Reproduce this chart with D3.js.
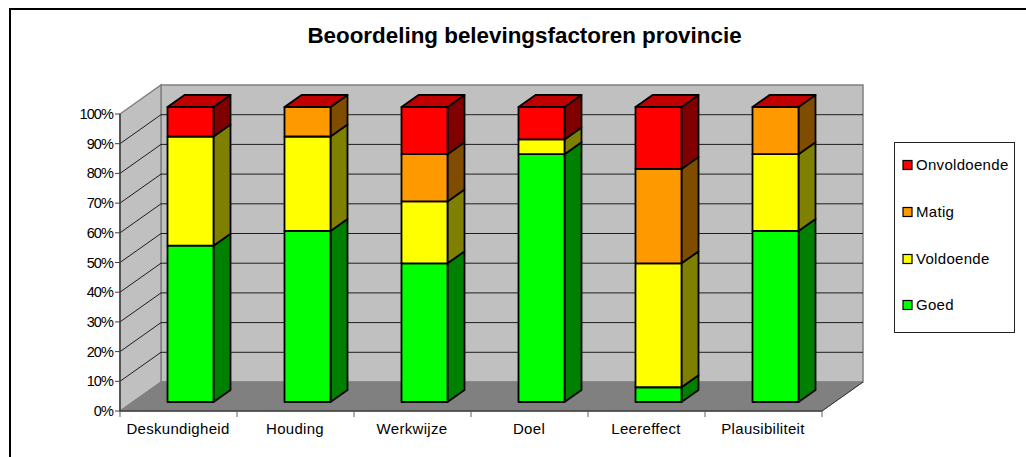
<!DOCTYPE html>
<html><head><meta charset="utf-8">
<script src="https://cdn.jsdelivr.net/npm/d3@7/dist/d3.min.js"></script>
<style>html,body{margin:0;padding:0;background:#fff}svg{display:block}text{font-family:"Liberation Sans",Arial,sans-serif;fill:#000}</style>
</head><body><script>
const categories=["Deskundigheid","Houding","Werkwijze","Doel","Leereffect","Plausibiliteit"];
const goed=[53,58,47,84,5,58];
const voldoende=[37,32,21,5,42,26];
const matig=[0,10,16,0,32,16];
const onvoldoende=[10,0,16,11,21,0];
const tickLabels=["0%","10%","20%","30%","40%","50%","60%","70%","80%","90%","100%"];
const seriesNames=["Goed","Voldoende","Matig","Onvoldoende"];
const seriesVals=[goed,voldoende,matig,onvoldoende];
const colors=["#00ff00","#ffff00","#ff9900","#ff0000"];
const sideColors=["#008000","#808000","#804d00","#800000"];

const W=1026,H=457;
const svg=d3.select("body").append("svg").attr("width",W).attr("height",H);
svg.append("path").attr("d","M10,"+H+"V9H"+W).attr("fill","none").attr("stroke","#000").attr("stroke-width",2);
svg.append("text").attr("x",524.5).attr("y",43).attr("text-anchor","middle").attr("font-size",22.4).attr("font-weight","bold").text("Beoordeling belevingsfactoren provincie");

const dx=41,dy=-29;
const x0=120,x1=822;
const y=d3.scaleLinear().domain([0,100]).range([411,114]);
const x=d3.scaleBand().domain(categories).range([x0,x1]);
const line=d3.line();
svg.append("path").attr("d",line([[x0+dx,y(100)+dy],[x1+dx,y(100)+dy],[x1+dx,y(0)+dy],[x0+dx,y(0)+dy]])+"Z").attr("fill","#c0c0c0").attr("stroke","#808080").attr("stroke-width",1.5);
svg.append("path").attr("d",line([[x0,y(100)],[x0+dx,y(100)+dy],[x0+dx,y(0)+dy],[x0,y(0)]])+"Z").attr("fill","#c0c0c0").attr("stroke","#808080").attr("stroke-width",1.5);
svg.append("path").attr("d",line([[x0,y(0)],[x0+dx,y(0)+dy],[x1+dx,y(0)+dy],[x1,y(0)]])+"Z").attr("fill","#808080").attr("stroke","#808080");
d3.range(10,100,10).forEach(v=>{
  svg.append("path").attr("d",line([[x0,y(v)],[x0+dx,y(v)+dy],[x1+dx,y(v)+dy]])).attr("fill","none").attr("stroke","#000").attr("stroke-width",1).attr("opacity",.85);
});
svg.append("path").attr("d",line([[x0,y(100)],[x0,y(0)],[x1,y(0)]])).attr("fill","none").attr("stroke","#404040").attr("stroke-width",1.5);
svg.append("path").attr("d",line([[x1,y(0)],[x1+dx,y(0)+dy]])).attr("stroke","#303030");
tickLabels.forEach((t,i)=>{
  const v=i*10;
  svg.append("line").attr("x1",x0-5).attr("x2",x0).attr("y1",y(v)).attr("y2",y(v)).attr("stroke","#404040");
  svg.append("text").attr("x",x0-7).attr("y",y(v)+5).attr("text-anchor","end").attr("font-size",14.5).attr("letter-spacing",-0.9).text(t);
});
categories.concat([null]).forEach((c,i)=>{
  const px=x0+x.step()*i;
  svg.append("line").attr("x1",px).attr("x2",px).attr("y1",y(0)).attr("y2",y(0)+6).attr("stroke","#606060");
  if(c) svg.append("text").attr("x",px+x.step()/2-0.5).attr("y",434).attr("text-anchor","middle").attr("font-size",15).attr("letter-spacing",0.3).text(c);
});
const bw=46,ox=17,oy=-12,by=d3.scaleLinear().domain([0,100]).range([402,107]);
categories.forEach((c,i)=>{
  const L=x(c)+47.5,R=L+bw;
  let cum=0;
  seriesVals.forEach((vals,s)=>{
    const v=vals[i];
    if(!v)return;
    const yb=by(cum),yt=by(cum+v);
    cum+=v;
    const g=svg.append("g").attr("stroke","#000").attr("stroke-width",1.8).attr("stroke-linejoin","round");
    g.append("path").attr("d",line([[R,yb],[R+ox,yb+oy],[R+ox,yt+oy],[R,yt]])+"Z").attr("fill",sideColors[s]);
    g.append("path").attr("d",line([[L,yb],[R,yb],[R,yt],[L,yt]])+"Z").attr("fill",colors[s]);
    if(cum>=100) g.append("path").attr("d",line([[L,yt],[L+ox,yt+oy],[R+ox,yt+oy],[R,yt]])+"Z").attr("fill","#c00000");
  });
});
svg.append("rect").attr("x",894.5).attr("y",142.5).attr("width",120).attr("height",190).attr("fill","#fff").attr("stroke","#222");
const legendY=[305,259,212,165];
seriesNames.forEach((n,s)=>{
  const ly=legendY[s];
  svg.append("rect").attr("x",903).attr("y",ly-4.5).attr("width",9).attr("height",9).attr("fill",colors[s]).attr("stroke","#000").attr("stroke-width",1.2);
  svg.append("text").attr("x",916).attr("y",ly+5).attr("font-size",15).attr("letter-spacing",0.3).text(n);
});
</script></body></html>
